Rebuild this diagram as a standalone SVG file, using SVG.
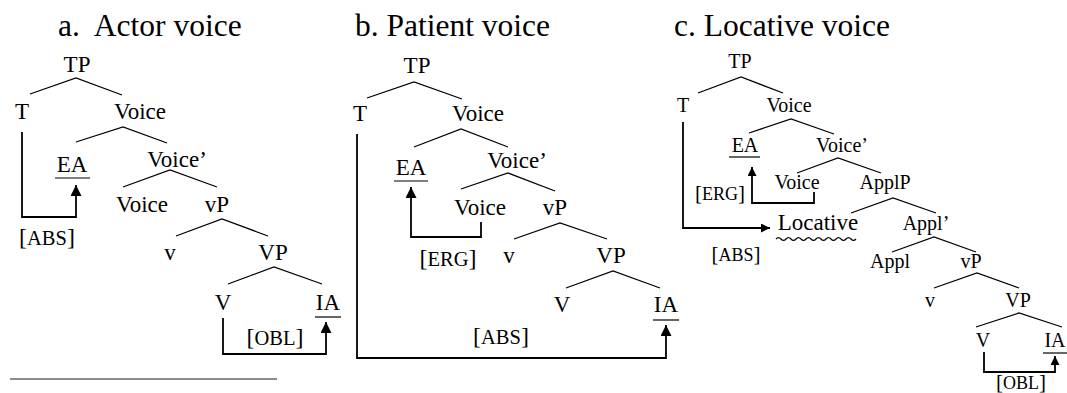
<svg xmlns="http://www.w3.org/2000/svg" width="1067" height="393" viewBox="0 0 1067 393" font-family="'Liberation Serif', 'Times New Roman', 'DejaVu Serif', serif">
<defs>
<marker id="ah" viewBox="0 0 10 10" refX="10" refY="5" markerWidth="11" markerHeight="11" markerUnits="userSpaceOnUse" orient="auto"><path d="M0,0 L10,5 L0,10 z" fill="#000"/></marker>
<marker id="ahs" viewBox="0 0 10 10" refX="10" refY="5" markerWidth="9" markerHeight="9" markerUnits="userSpaceOnUse" orient="auto"><path d="M0,0 L10,5 L0,10 z" fill="#000"/></marker>
</defs>
<style>
text{font-family:'Liberation Serif','Times New Roman','DejaVu Serif',serif;fill:#000;text-anchor:middle}
.title{font-size:31.5px;text-anchor:start}
.n{font-size:23px}
.s{font-size:20px}
.br{font-size:24px}
.brs{font-size:21px}
.sc{font-size:20.5px}
.scs{font-size:18px}
.b{stroke:#000;stroke-width:1.3;fill:none}
.u{stroke:#000;stroke-width:1.2;fill:none}
.c{stroke:#000;stroke-width:1.8;fill:none}
</style>
<rect width="1067" height="393" fill="#fff"/>
<text class="title" x="58" y="36">a.&#160; Actor voice</text>
<text class="title" x="355" y="36">b. Patient voice</text>
<text class="title" x="674" y="36">c. Locative voice</text>

<g id="treeA">
<g id="a-TP"><text class="n" x="77" y="72">TP</text><path class="b" d="M30,94 L76,78 L122,95"/></g>
<g id="a-T"><text class="n" x="22" y="119">T</text></g>
<g id="a-Voice"><text class="n" x="140" y="119">Voice</text><path class="b" d="M76,142 L123,127 L167,143"/></g>
<g id="a-EA"><text class="n" x="72" y="172">EA</text><path class="u" d="M55,178 L90,178"/></g>
<g id="a-VoiceBar"><text class="n" x="177" y="167">Voice’</text><path class="b" d="M123,187 L170,170 L217,187"/></g>
<g id="a-Voice2"><text class="n" x="142" y="212">Voice</text></g>
<g id="a-vP"><text class="n" x="217" y="212">vP</text><path class="b" d="M176,236 L222,219 L268,236"/></g>
<g id="a-v"><text class="n" x="170" y="260">v</text></g>
<g id="a-VP"><text class="n" x="273" y="260">VP</text><path class="b" d="M228,284 L274,267 L322,284"/></g>
<g id="a-V"><text class="n" x="223" y="310">V</text></g>
<g id="a-IA"><text class="n" x="328" y="310">IA</text><path class="u" d="M315,317 L341,317"/></g>
</g>

<g id="treeB">
<g id="b-TP"><text class="n" x="417" y="73">TP</text><path class="b" d="M367,98 L414,82 L462,99"/></g>
<g id="b-T"><text class="n" x="360" y="121">T</text></g>
<g id="b-Voice"><text class="n" x="478" y="121">Voice</text><path class="b" d="M414,147 L461,129 L508,147"/></g>
<g id="b-EA"><text class="n" x="411" y="175">EA</text><path class="u" d="M394,181 L428,181"/></g>
<g id="b-VoiceBar"><text class="n" x="517" y="168">Voice’</text><path class="b" d="M461,189 L508,173 L555,191"/></g>
<g id="b-Voice2"><text class="n" x="480" y="215">Voice</text></g>
<g id="b-vP"><text class="n" x="555" y="215">vP</text><path class="b" d="M514,239 L560,223 L607,239"/></g>
<g id="b-v"><text class="n" x="509" y="263">v</text></g>
<g id="b-VP"><text class="n" x="611" y="263">VP</text><path class="b" d="M566,288 L613,271 L660,288"/></g>
<g id="b-V"><text class="n" x="562" y="312">V</text></g>
<g id="b-IA"><text class="n" x="666" y="312">IA</text><path class="u" d="M653,320 L679,320"/></g>
</g>

<g id="treeC">
<g id="c-TP"><text class="s" x="740" y="68">TP</text><path class="b" d="M698,93 L741,77 L783,93"/></g>
<g id="c-T"><text class="s" x="683" y="112">T</text></g>
<g id="c-Voice"><text class="s" x="789" y="112">Voice</text><path class="b" d="M749,133 L791,119 L834,134"/></g>
<g id="c-EA"><text class="s" x="745" y="152">EA</text><path class="u" d="M729,157 L760,157"/></g>
<g id="c-VoiceBar"><text class="s" x="842" y="152">Voice’</text><path class="b" d="M797,173 L838,158 L881,173"/></g>
<g id="c-Voice2"><text class="s" x="797" y="189">Voice</text></g>
<g id="c-ApplP"><text class="s" x="885" y="189">ApplP</text><path class="b" d="M851,213 L893,198 L936,213"/></g>
<g id="c-Locative"><text x="818" y="230" style="font-size:23px">Locative</text><path class="u" d="M776,239 q2.5,-2.8 5,0 t5,0 t5,0 t5,0 t5,0 t5,0 t5,0 t5,0 t5,0 t5,0 t5,0 t5,0 t5,0 t5,0 t5,0 t5,0"/></g>
<g id="c-ApplBar"><text class="s" x="926" y="230">Appl’</text><path class="b" d="M892,252 L934,237 L976,252"/></g>
<g id="c-Appl"><text class="s" x="890" y="268">Appl</text></g>
<g id="c-vP"><text class="s" x="971" y="268">vP</text><path class="b" d="M934,288 L977,273 L1019,288"/></g>
<g id="c-v"><text class="s" x="930" y="307">v</text></g>
<g id="c-VP"><text class="s" x="1018" y="307">VP</text><path class="b" d="M976,327 L1019,313 L1062,327"/></g>
<g id="c-V"><text class="s" x="983" y="347">V</text></g>
<g id="c-IA"><text class="s" x="1055" y="347">IA</text><path class="u" d="M1043,353 L1067,353"/></g>
</g>

<g id="connectors">
<path class="c" d="M22,132 L22,217 L76,217 L76,185" marker-end="url(#ah)"/>
<path class="c" d="M223,318 L223,354 L326,354 L326,322" marker-end="url(#ah)"/>
<path class="c" d="M357,134 L357,358 L666,358 L666,325" marker-end="url(#ah)"/>
<path class="c" d="M481,222 L481,237 L411,237 L411,187" marker-end="url(#ah)"/>
<path class="c" d="M683,122 L683,228 L770,228" marker-end="url(#ahs)"/>
<path class="c" d="M814,192 L814,203 L752,203 L752,167" marker-end="url(#ahs)"/>
<path class="c" d="M984,352 L984,372 L1055,372 L1055,356" marker-end="url(#ahs)"/>
</g>

<g id="labels">
<text x="47" y="245"><tspan class="br">[</tspan><tspan class="sc">ABS</tspan><tspan class="br">]</tspan></text>
<text x="275" y="345"><tspan class="br">[</tspan><tspan class="sc">OBL</tspan><tspan class="br">]</tspan></text>
<text x="448" y="266"><tspan class="br">[</tspan><tspan class="sc">ERG</tspan><tspan class="br">]</tspan></text>
<text x="501" y="344"><tspan class="br">[</tspan><tspan class="sc">ABS</tspan><tspan class="br">]</tspan></text>
<text x="720" y="200"><tspan class="brs">[</tspan><tspan class="scs">ERG</tspan><tspan class="brs">]</tspan></text>
<text x="736" y="261"><tspan class="brs">[</tspan><tspan class="scs">ABS</tspan><tspan class="brs">]</tspan></text>
<text x="1021" y="389"><tspan class="brs">[</tspan><tspan class="scs">OBL</tspan><tspan class="brs">]</tspan></text>
</g>

<path id="rule" d="M10,379 L277,379" stroke="#666" stroke-width="1.6" fill="none"/>
</svg>
